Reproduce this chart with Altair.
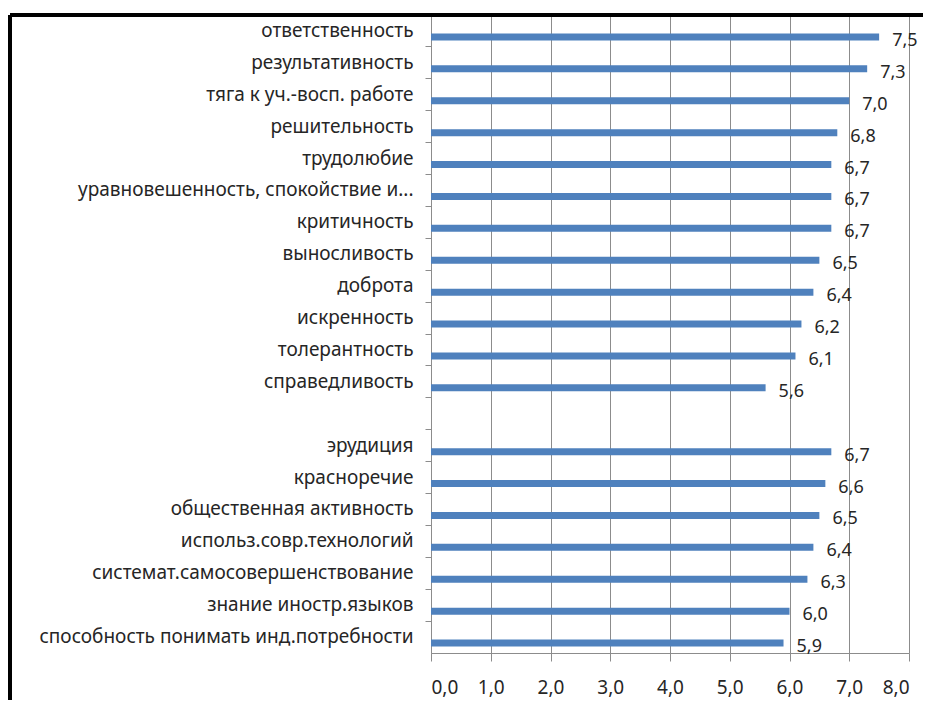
import altair as alt
import pandas as pd

categories = [
    "ответственность", "результативность", "тяга к уч.-восп. работе", "решительность",
    "трудолюбие", "уравновешенность, спокойствие и...", "критичность", "выносливость",
    "доброта", "искренность", "толерантность", "справедливость", " ",
    "эрудиция", "красноречие", "общественная активность", "использ.совр.технологий",
    "системат.самосовершенствование", "знание иностр.языков",
    "способность понимать инд.потребности",
]
values = [7.5, 7.3, 7.0, 6.8, 6.7, 6.7, 6.7, 6.5, 6.4, 6.2, 6.1, 5.6, None,
          6.7, 6.6, 6.5, 6.4, 6.3, 6.0, 5.9]

df = pd.DataFrame({"cat": categories, "val": values})
df["lab"] = [("" if v is None or pd.isna(v) else f"{v:.1f}".replace(".", ",")) for v in values]

FONT = "Noto Sans"
TXT = "#262626"
GRID = "#8c8c8c"

y = alt.Y("cat:N", sort=categories, title=None,
          scale=alt.Scale(paddingInner=0, paddingOuter=0),
          axis=alt.Axis(bandPosition=0, tickSize=6, tickColor=GRID,
                        domainColor=GRID, labelFont=FONT, labelFontSize=19,
                        labelColor=TXT, labelPadding=12, grid=False, labelLimit=500))
x = alt.X("val:Q", title=None,
          scale=alt.Scale(domain=[0, 8], nice=False),
          axis=alt.Axis(values=[0, 1, 2, 3, 4, 5, 6, 7, 8], tickSize=8, tickColor=GRID,
                        domainColor=GRID, gridColor=GRID, gridWidth=1, labelFont=FONT,
                        labelFontSize=19, labelColor=TXT, labelPadding=17,
                        labelExpr="replace(format(datum.value, '.1f'), '.', ',')"))

base = alt.Chart(df)
bars = base.mark_bar(color="#4F81BD", height=7, yOffset=6).encode(x=x, y=y)
text = base.mark_text(align="left", baseline="middle", dx=13, dy=10, font=FONT,
                      fontSize=18, color=TXT).encode(
    x="val:Q", y=alt.Y("cat:N", sort=categories), text="lab:N")

frame_left = alt.Chart(df).mark_rule(color="black", strokeWidth=3).encode(
    x=alt.value(-421), y=alt.value(0), y2=alt.value(700))
frame_top = alt.Chart(df).mark_rule(color="black", strokeWidth=3).encode(
    x=alt.value(-421), x2=alt.value(492), y=alt.value(0))

chart = alt.layer(bars, text, frame_left, frame_top).properties(
    width=478, height=638,
    autosize=alt.AutoSizeParams(type="none"),
    padding={"left": 423, "top": 7, "right": 14, "bottom": 47},
).configure_view(stroke=None).configure(background="white")

chart.save("out.html", embed_options={"renderer": "svg", "actions": False})
